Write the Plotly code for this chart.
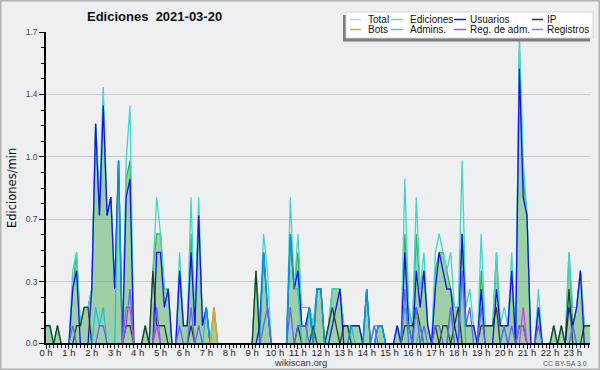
import plotly.graph_objects as go

# ---------------- data: edits per minute, 10-minute buckets (144 per day) ----------------
total = [
    0.1, 0.1, 0, 0.1, 0, 0,
    0, 0.4, 0.5, 0.1, 0.2, 0.2,
    0.3, 1.2, 0.8, 1.4, 0.7, 0.8,
    0.3, 1.0, 0, 1.0, 1.3, 0,
    0, 0, 0.1, 0, 0.4, 0.8,
    0.6, 0.3, 0.3, 0, 0, 0.5,
    0.1, 0.1, 0.8, 0.1, 0.8, 0.1,
    0.2, 0, 0.2, 0, 0, 0,
    0, 0, 0, 0, 0, 0,
    0, 0.4, 0.1, 0.6, 0.4, 0,
    0, 0, 0, 0, 0.8, 0.3,
    0.6, 0.2, 0.2, 0.2, 0.1, 0.3,
    0.3, 0, 0.1, 0.3, 0.3, 0.3,
    0.1, 0.1, 0.1, 0.1, 0.1, 0,
    0.3, 0, 0.1, 0.1, 0.1, 0,
    0, 0, 0.1, 0, 0.9, 0.2,
    0.1, 0.8, 0.3, 0.5, 0.1, 0,
    0.5, 0.6, 0.5, 0.4, 0.5, 0.2,
    0.2, 1.0, 0.2, 0.3, 0.1, 0,
    0.6, 0.1, 0.1, 0.1, 0.5, 0.1,
    0.2, 0.1, 0.5, 0, 1.7, 1.0,
    0.7, 0, 0, 0.3, 0, 0,
    0, 0.1, 0, 0.1, 0, 0.5,
    0.2, 0.2, 0.4, 0.1, 0.1, 0.1,
]
ediciones = [
    0.1, 0.1, 0, 0.1, 0, 0,
    0, 0.3, 0.5, 0.1, 0.2, 0.2,
    0.3, 1.2, 0.7, 1.3, 0.7, 0.8,
    0.3, 1.0, 0, 0.9, 1.0, 0,
    0, 0, 0.1, 0, 0.4, 0.6,
    0.6, 0.3, 0.3, 0, 0, 0.4,
    0.1, 0.1, 0.6, 0.1, 0.7, 0.1,
    0.2, 0, 0.2, 0, 0, 0,
    0, 0, 0, 0, 0, 0,
    0, 0.4, 0.1, 0.5, 0.2, 0,
    0, 0, 0, 0, 0.6, 0.3,
    0.5, 0.1, 0.1, 0.2, 0.1, 0.3,
    0.3, 0, 0.1, 0.3, 0.3, 0.3,
    0.1, 0.1, 0.1, 0.1, 0.1, 0,
    0.3, 0, 0, 0.1, 0.1, 0,
    0, 0, 0.1, 0, 0.6, 0.2,
    0.1, 0.6, 0.3, 0.4, 0.1, 0,
    0.4, 0.5, 0.5, 0.4, 0.3, 0.2,
    0.2, 0.6, 0.1, 0.1, 0.1, 0,
    0.4, 0.1, 0.1, 0.1, 0.5, 0.1,
    0.1, 0.1, 0.4, 0, 1.6, 0.9,
    0.7, 0, 0, 0.2, 0, 0,
    0, 0.1, 0, 0.1, 0, 0.5,
    0.1, 0.2, 0.4, 0.1, 0.1, 0.1,
]
usuarios = [
    0, 0, 0, 0, 0, 0,
    0, 0.3, 0.4, 0, 0, 0,
    0.3, 1.2, 0.7, 1.3, 0.7, 0.8,
    0.3, 1.0, 0, 0.8, 0.9, 0,
    0, 0, 0, 0, 0, 0.5,
    0.5, 0.2, 0.3, 0, 0, 0.4,
    0.1, 0.1, 0.5, 0.1, 0.7, 0.1,
    0.2, 0, 0, 0, 0, 0,
    0, 0, 0, 0, 0, 0,
    0, 0, 0.1, 0.5, 0.2, 0,
    0, 0, 0, 0, 0.6, 0.3,
    0.4, 0.1, 0.1, 0.2, 0, 0.3,
    0.3, 0, 0, 0.1, 0.2, 0.3,
    0, 0, 0.1, 0.1, 0.1, 0,
    0.3, 0, 0, 0.1, 0.1, 0,
    0, 0, 0.1, 0, 0.5, 0.1,
    0, 0.4, 0.2, 0.4, 0.1, 0,
    0.3, 0.5, 0.4, 0.3, 0.3, 0.1,
    0, 0.6, 0.1, 0.1, 0.1, 0,
    0.3, 0, 0, 0, 0.3, 0.1,
    0.1, 0.1, 0.4, 0, 1.5, 0.8,
    0.7, 0, 0, 0.2, 0, 0,
    0, 0, 0, 0, 0, 0.2,
    0.1, 0.2, 0.4, 0, 0, 0,
]
ip = [
    0.1, 0.1, 0, 0.1, 0, 0,
    0, 0, 0.1, 0.1, 0.2, 0.2,
    0, 0, 0, 0, 0, 0,
    0, 0, 0, 0.1, 0.1, 0,
    0, 0, 0.1, 0, 0.4, 0.1,
    0.1, 0.1, 0, 0, 0, 0,
    0, 0, 0.1, 0, 0, 0,
    0, 0, 0, 0, 0, 0,
    0, 0, 0, 0, 0, 0,
    0, 0.4, 0, 0, 0, 0,
    0, 0, 0, 0, 0, 0,
    0.1, 0, 0, 0, 0.1, 0,
    0, 0, 0.1, 0.2, 0.1, 0,
    0.1, 0.1, 0, 0, 0, 0,
    0, 0, 0, 0, 0, 0,
    0, 0, 0, 0, 0.1, 0.1,
    0.1, 0.2, 0.1, 0, 0, 0,
    0.1, 0, 0.1, 0.1, 0, 0.1,
    0.2, 0, 0, 0, 0, 0,
    0.1, 0.1, 0.1, 0.1, 0.2, 0,
    0, 0, 0, 0, 0.1, 0.1,
    0, 0, 0, 0, 0, 0,
    0, 0.1, 0, 0.1, 0, 0.3,
    0, 0, 0, 0.1, 0.1, 0.1,
]
bots = [
    0, 0, 0, 0, 0, 0,  0, 0, 0, 0, 0, 0,  0, 0, 0, 0, 0, 0,  0, 0, 0, 0, 0, 0,
    0, 0, 0, 0, 0, 0,  0, 0, 0, 0, 0, 0,  0, 0, 0, 0, 0, 0,  0, 0, 0.2, 0, 0, 0,
    0, 0, 0, 0, 0, 0,  0, 0, 0, 0, 0, 0,  0, 0, 0, 0, 0, 0,  0, 0, 0, 0, 0, 0,
    0, 0, 0, 0, 0, 0,  0, 0, 0, 0, 0, 0,  0, 0, 0, 0, 0, 0,  0, 0, 0, 0, 0, 0,
    0, 0, 0, 0, 0, 0,  0, 0, 0, 0, 0, 0,  0, 0, 0, 0, 0, 0,  0, 0, 0, 0, 0, 0,
    0, 0, 0, 0, 0, 0,  0, 0, 0, 0, 0, 0,  0, 0, 0, 0, 0, 0,  0, 0, 0, 0, 0, 0,
]
admins = [
    0, 0, 0, 0, 0, 0,
    0, 0, 0, 0, 0, 0,
    0, 0.2, 0.1, 0.2, 0, 0,
    0, 1.0, 0, 0, 0, 0,
    0, 0, 0, 0, 0, 0,
    0, 0, 0, 0, 0, 0,
    0, 0, 0, 0, 0, 0,
    0.2, 0, 0, 0, 0, 0,
    0, 0, 0, 0, 0, 0,
    0, 0, 0, 0.5, 0.2, 0,
    0, 0, 0, 0, 0.6, 0.3,
    0.3, 0, 0, 0.2, 0, 0.3,
    0.3, 0, 0, 0, 0, 0,
    0, 0, 0.1, 0, 0, 0,
    0.3, 0, 0, 0.1, 0.1, 0,
    0, 0, 0, 0, 0.2, 0.1,
    0, 0, 0.1, 0, 0, 0,
    0, 0, 0, 0, 0.2, 0,
    0, 0.4, 0, 0, 0, 0,
    0, 0, 0, 0, 0, 0,
    0.1, 0, 0, 0, 0, 0,
    0, 0, 0, 0, 0, 0,
    0, 0, 0, 0, 0, 0,
    0.1, 0, 0, 0, 0, 0,
]
reg_adm = [
    0, 0, 0, 0, 0, 0,  0, 0, 0, 0, 0, 0,  0, 0, 0, 0, 0, 0,  0, 0, 0, 0.2, 0.2, 0,
    0, 0, 0, 0, 0, 0.1,  0, 0, 0, 0, 0, 0,  0, 0, 0, 0, 0, 0,  0, 0, 0, 0, 0, 0,
    0, 0, 0, 0, 0, 0,  0, 0, 0, 0, 0, 0,  0, 0, 0, 0, 0, 0,  0, 0, 0, 0, 0, 0,
    0, 0, 0, 0, 0, 0,  0, 0, 0, 0, 0, 0,  0, 0, 0, 0, 0, 0,  0, 0, 0, 0, 0, 0,
    0, 0, 0, 0, 0, 0,  0, 0, 0, 0, 0, 0,  0, 0, 0, 0, 0, 0,  0, 0, 0, 0, 0, 0,
    0, 0, 0, 0, 0, 0.2,  0, 0, 0, 0, 0, 0,  0, 0, 0, 0, 0, 0,  0, 0, 0, 0, 0, 0,
]
registros = [
    0, 0, 0, 0, 0, 0,
    0, 0.1, 0, 0, 0, 0,
    0, 0, 0.1, 0.1, 0, 0,
    0, 0, 0, 0.1, 0.3, 0,
    0, 0, 0, 0, 0, 0.2,
    0, 0, 0, 0, 0, 0.1,
    0, 0, 0.2, 0, 0.1, 0,
    0, 0, 0, 0, 0, 0,
    0, 0, 0, 0, 0, 0,
    0, 0, 0, 0.1, 0.2, 0,
    0, 0, 0, 0, 0.2, 0,
    0.1, 0.1, 0.1, 0, 0, 0,
    0, 0, 0, 0, 0, 0,
    0, 0, 0, 0, 0, 0,
    0, 0, 0.1, 0, 0, 0,
    0, 0, 0, 0, 0.3, 0,
    0, 0.2, 0, 0.1, 0, 0,
    0.1, 0.1, 0, 0, 0.2, 0,
    0, 0.4, 0.1, 0.2, 0, 0,
    0.2, 0, 0, 0, 0, 0,
    0.1, 0, 0.1, 0, 0.1, 0.1,
    0, 0, 0, 0.1, 0, 0,
    0, 0, 0, 0, 0, 0,
    0.1, 0, 0, 0, 0, 0,
]

hour_labels = ["0 h", "1 h", "2 h", "3 h", "4 h", "5 h", "6 h", "7 h", "8 h", "9 h",
               "10 h", "11 h", "12 h", "13 h", "14 h", "15 h", "16 h", "17 h", "18 h",
               "19 h", "20 h", "21 h", "22 h", "23 h"]
hour_ticks = list(range(24))
y_tickvals = [0.006, 0.34, 0.68, 1.02, 1.36, 1.7]
y_ticktext = ["0.0", "0.3", "0.7", "1.0", "1.4", "1.7"]

times = [i / 6 for i in range(len(total))]  # bucket start, in hours

# ---------------- styling ----------------
BG = "#eeeff1"
C_TOTAL = "#3fd6cc"
C_EDIT = "#3cb44c"
C_EDIT_FILL = "rgba(60,170,80,0.45)"
C_USERS = "#1414e6"
C_IP = "rgba(25,45,25,0.9)"
C_BOTS = "#f09a20"
C_ADMINS = "rgba(0,190,225,0.8)"
C_REGADM = "#d040e0"
C_REG = "#6464f0"

W, H = 600, 370
L, R, T, B = 46, 10, 32, 27
PW, PH = W - L - R, H - T - B


def px(x):
    return (x - L) / PW


def py(y):
    return (H - B - y) / PH


fig = go.Figure()
fig.add_trace(go.Scatter(x=times, y=ediciones, name="Ediciones", mode="lines",
                         line=dict(color=C_EDIT, width=1.3), fill="tozeroy",
                         fillcolor=C_EDIT_FILL, showlegend=False))
series = [
    ("Total", total, C_TOTAL),
    ("Usuarios", usuarios, C_USERS),
    ("IP", ip, C_IP),
    ("Admins.", admins, C_ADMINS),
    ("Registros", registros, C_REG),
    ("Reg. de adm.", reg_adm, C_REGADM),
    ("Bots", bots, C_BOTS),
]
for name, vals, col in series:
    fig.add_trace(go.Scatter(x=times, y=vals, name=name, mode="lines",
                             line=dict(color=col, width=1.3), showlegend=False))

shapes = []
annotations = []

# outer frame
shapes.append(dict(type="rect", xref="paper", yref="paper",
                   x0=px(0.5), x1=px(W - 0.5), y0=py(H - 0.5), y1=py(0.5),
                   line=dict(color="#b2b2b2", width=2), layer="below"))

# legend: shadow, box, swatches, labels
shapes.append(dict(type="rect", xref="paper", yref="paper",
                   x0=px(343), x1=px(590), y0=py(41.5), y1=py(15),
                   fillcolor="#7c7c7c", line=dict(width=0), layer="above"))
shapes.append(dict(type="rect", xref="paper", yref="paper",
                   x0=px(346), x1=px(593), y0=py(38), y1=py(12),
                   fillcolor="white", line=dict(color="#d4d4d4", width=1), layer="above"))
legend_items = [
    ("Total", "#9fe6df", 350, 361, 366, 19.5),
    ("Ediciones", "#7fd27f", 391, 403, 408, 19.5),
    ("Usuarios", C_USERS, 454, 466, 468, 19.5),
    ("IP", "#333333", 532, 543, 545, 19.5),
    ("Bots", C_BOTS, 350, 361, 366, 29.5),
    ("Admins.", "#40c8e0", 391, 403, 408, 29.5),
    ("Reg. de adm.", C_REGADM, 454, 466, 468, 29.5),
    ("Registros", "#8080e8", 532, 543, 545, 29.5),
]
for label, col, sx0, sx1, tx, ty in legend_items:
    shapes.append(dict(type="line", xref="paper", yref="paper",
                       x0=px(sx0), x1=px(sx1), y0=py(ty), y1=py(ty),
                       line=dict(color=col, width=1.5), layer="above"))
    annotations.append(dict(text=label, x=px(tx), y=py(ty), xref="paper", yref="paper",
                            xanchor="left", yanchor="middle", showarrow=False,
                            font=dict(family="Liberation Sans, Arial, sans-serif",
                                      size=10, color="#111111")))

# title
annotations.append(dict(text="<b>Ediciones\u00a0\u00a02021-03-20</b>", x=px(154), y=py(16),
                        xref="paper", yref="paper", xanchor="center", yanchor="middle",
                        showarrow=False,
                        font=dict(family="Liberation Sans, Arial, sans-serif", size=13,
                                  color="#111111")))
# y-axis title
annotations.append(dict(text="Ediciones/min", x=px(12), y=py(188), xref="paper", yref="paper",
                        xanchor="center", yanchor="middle", textangle=-90, showarrow=False,
                        font=dict(family="DejaVu Sans, sans-serif", size=11.5, color="#111111")))
# footer
annotations.append(dict(text="wikiscan.org", x=px(300), y=py(362), xref="paper", yref="paper",
                        xanchor="center", yanchor="middle", showarrow=False,
                        font=dict(family="Liberation Sans, Arial, sans-serif", size=9.5,
                                  color="#333333")))
annotations.append(dict(text="CC BY-SA 3.0", x=px(589), y=py(363), xref="paper", yref="paper",
                        xanchor="right", yanchor="middle", showarrow=False,
                        font=dict(family="Liberation Sans, Arial, sans-serif", size=7,
                                  color="#555555")))

fig.update_layout(
    width=W, height=H,
    margin=dict(l=L, r=R, t=T, b=B, pad=0),
    paper_bgcolor=BG, plot_bgcolor=BG,
    showlegend=False,
    shapes=shapes, annotations=annotations,
    xaxis=dict(range=[0, 23.75], tickmode="array", tickvals=hour_ticks, ticktext=hour_labels,
               ticks="outside", ticklen=4, tickcolor="black", tickwidth=1,
               ticklabelstandoff=-4,
               showline=True, linecolor="black", linewidth=1.5, showgrid=False,
               zeroline=False, fixedrange=True, automargin=False,
               tickfont=dict(family="Liberation Sans, Arial, sans-serif", size=9.5,
                             color="#222222"),
               minor=dict(tickmode="linear", tick0=0, dtick=1 / 6, ticks="outside",
                          ticklen=3, tickcolor="black", showgrid=False)),
    yaxis=dict(range=[0.006, 1.7], tickmode="array", tickvals=y_tickvals, ticktext=y_ticktext,
               ticks="outside", ticklen=5, tickcolor="black", tickwidth=1,
               showline=True, linecolor="black", linewidth=1.5,
               showgrid=True, gridcolor="#c9c9cb", gridwidth=1,
               zeroline=False, fixedrange=True, automargin=False,
               tickfont=dict(family="Liberation Sans, Arial, sans-serif", size=8.5,
                             color="#444444"),
               minor=dict(tickmode="linear", tick0=0, dtick=0.085, ticks="outside",
                          ticklen=3, tickcolor="black", showgrid=False)),
)

fig.write_html("out.html", config={"displayModeBar": False},
               post_script="document.body.style.margin='0';document.body.style.overflow='hidden';")
